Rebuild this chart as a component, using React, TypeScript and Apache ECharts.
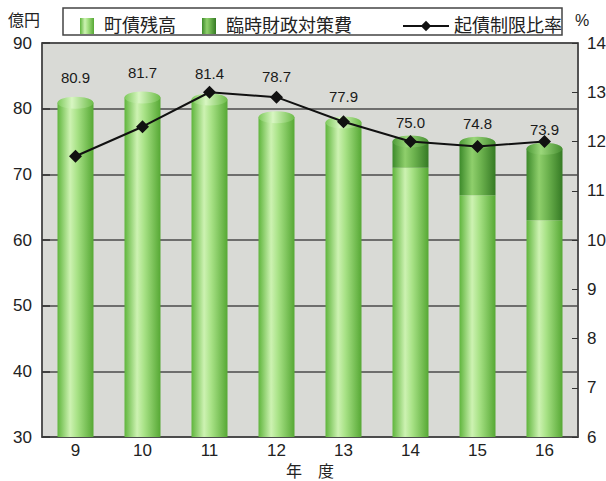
import React, { useEffect, useRef } from "react";
import * as echarts from "echarts";

const categories = ["9", "10", "11", "12", "13", "14", "15", "16"];
const totals = [80.9, 81.7, 81.4, 78.7, 77.9, 75.0, 74.8, 73.9];
const bondBalance = [80.9, 81.7, 81.4, 78.7, 77.9, 71.0, 66.8, 63.0];
const tempFinance = [0, 0, 0, 0, 0, 4.0, 8.0, 10.9];
const ratio = [11.7, 12.3, 13.0, 12.9, 12.4, 12.0, 11.9, 12.0];
const leftTicks = { min: 30, max: 90, interval: 10 };
const rightTicks = { min: 6, max: 14, interval: 1 };

const JP = "'Liberation Sans', 'Noto Sans CJK JP', sans-serif";

const lightGrad = new echarts.graphic.LinearGradient(0, 0, 1, 0, [
  { offset: 0, color: "#5fb53c" },
  { offset: 0.35, color: "#cdf2b2" },
  { offset: 0.55, color: "#a8e286" },
  { offset: 1, color: "#56a834" },
]);
const darkGrad = new echarts.graphic.LinearGradient(0, 0, 1, 0, [
  { offset: 0, color: "#3c8a2a" },
  { offset: 0.35, color: "#8fcf6c" },
  { offset: 0.6, color: "#6cb24e" },
  { offset: 1, color: "#357a24" },
]);
const capLight = new echarts.graphic.LinearGradient(0, 0, 1, 0, [
  { offset: 0, color: "#7cc95a" },
  { offset: 0.4, color: "#d8f6c2" },
  { offset: 1, color: "#6cbc48" },
]);
const capDark = new echarts.graphic.LinearGradient(0, 0, 1, 0, [
  { offset: 0, color: "#4c9a36" },
  { offset: 0.4, color: "#9bd77a" },
  { offset: 1, color: "#458e30" },
]);

export default function App() {
  const ref = useRef<HTMLDivElement>(null);
  useEffect(() => {
    if (!ref.current) return;
    const chart = echarts.init(ref.current, null, { renderer: "svg" });
    const labelDistance = (i: number) =>
      i === 3 ? 32 : tempFinance[i] > 0 ? 11 : 17;
    chart.setOption({
      animation: false,
      textStyle: { fontFamily: JP },
      grid: {
        left: 42,
        right: 28,
        top: 43,
        bottom: 44,
        outerBoundsMode: "none",
        containLabel: false,
        show: true,
        backgroundColor: "#d9dad6",
        borderColor: "#4a4a4a",
        borderWidth: 1.5,
      },
      graphic: [
        {
          type: "rect",
          shape: { x: 63, y: 8, width: 499, height: 27 },
          style: { fill: "#fff", stroke: "#444", lineWidth: 1.5 },
          z: -1,
        },
        {
          type: "text",
          left: 8,
          top: 12,
          style: { text: "億円", fontSize: 16, fill: "#222", fontFamily: JP },
        },
        {
          type: "text",
          left: 575,
          top: 12,
          style: { text: "%", fontSize: 16, fill: "#222", fontFamily: JP },
        },
      ],
      legend: [
        {
          left: 75,
          top: 12,
          itemWidth: 14,
          itemHeight: 16,
          itemGap: 26,
          textStyle: { fontSize: 18, color: "#222", fontFamily: JP, padding: [0, 0, 0, 5] },
          data: [
            { name: "町債残高", icon: "rect", itemStyle: { color: lightGrad } },
            { name: "臨時財政対策費", icon: "rect", itemStyle: { color: darkGrad } },
          ],
        },
        {
          left: 397,
          top: 12,
          itemWidth: 46,
          itemHeight: 13,
          textStyle: { fontSize: 18, color: "#222", fontFamily: JP },
          data: [{ name: "起債制限比率" }],
        },
      ],
      xAxis: {
        type: "category",
        data: categories,
        name: "年　度",
        nameLocation: "middle",
        nameGap: 25,
        nameTextStyle: { fontSize: 16, color: "#222" },
        axisLine: { lineStyle: { color: "#4a4a4a", width: 1.5 } },
        axisTick: { inside: true, length: 6, lineStyle: { color: "#333" } },
        axisLabel: { fontSize: 17, color: "#222", margin: 5 },
      },
      yAxis: [
        {
          type: "value",
          ...leftTicks,
          axisLine: { show: true, lineStyle: { color: "#4a4a4a", width: 1.5 } },
          axisTick: { show: true, inside: true, length: 8, lineStyle: { color: "#333", width: 1.5 } },
          axisLabel: { fontSize: 17, color: "#222", margin: 10 },
          splitLine: { show: true, lineStyle: { color: "#4a4a4a", width: 1.5 } },
        },
        {
          type: "value",
          ...rightTicks,
          axisLine: { show: true, lineStyle: { color: "#4a4a4a", width: 1.5 } },
          axisTick: { show: true, inside: true, length: 6, lineStyle: { color: "#333" } },
          axisLabel: { fontSize: 17, color: "#222", margin: 9 },
          splitLine: { show: false },
        },
      ],
      series: [
        {
          name: "町債残高",
          type: "bar",
          stack: "total",
          barWidth: 36,
          itemStyle: { color: lightGrad },
          data: bondBalance,
        },
        {
          name: "臨時財政対策費",
          type: "bar",
          stack: "total",
          barWidth: 36,
          itemStyle: { color: darkGrad },
          data: tempFinance,
        },
        {
          name: "cap",
          type: "pictorialBar",
          symbol: "circle",
          symbolSize: [36, 12],
          symbolPosition: "end",
          symbolOffset: [0, "-50%"],
          barWidth: 36,
          z: 3,
          data: totals.map((v, i) => ({
            value: v,
            itemStyle: { color: tempFinance[i] > 0 ? capDark : capLight },
          })),
        },
        {
          name: "label",
          type: "scatter",
          symbolSize: 2,
          itemStyle: { color: "rgba(0,0,0,0)", opacity: 1 },
          z: 6,
          label: {
            show: true,
            position: "top",
            fontSize: 15,
            color: "#1a1a1a",
            opacity: 1,
            formatter: (p: any) => Number(p.value).toFixed(1),
          },
          data: totals.map((v, i) => ({
            value: v,
            label: { distance: labelDistance(i) },
          })),
        },
        {
          name: "起債制限比率",
          type: "line",
          yAxisIndex: 1,
          symbol: "diamond",
          symbolSize: 13,
          z: 5,
          itemStyle: { color: "#111" },
          lineStyle: { color: "#111", width: 2 },
          data: ratio,
        },
      ],
    });
    return () => chart.dispose();
  }, []);
  return <div ref={ref} style={{ width: 606, height: 481, position: "absolute", left: 0, top: 0 }} />;
}
